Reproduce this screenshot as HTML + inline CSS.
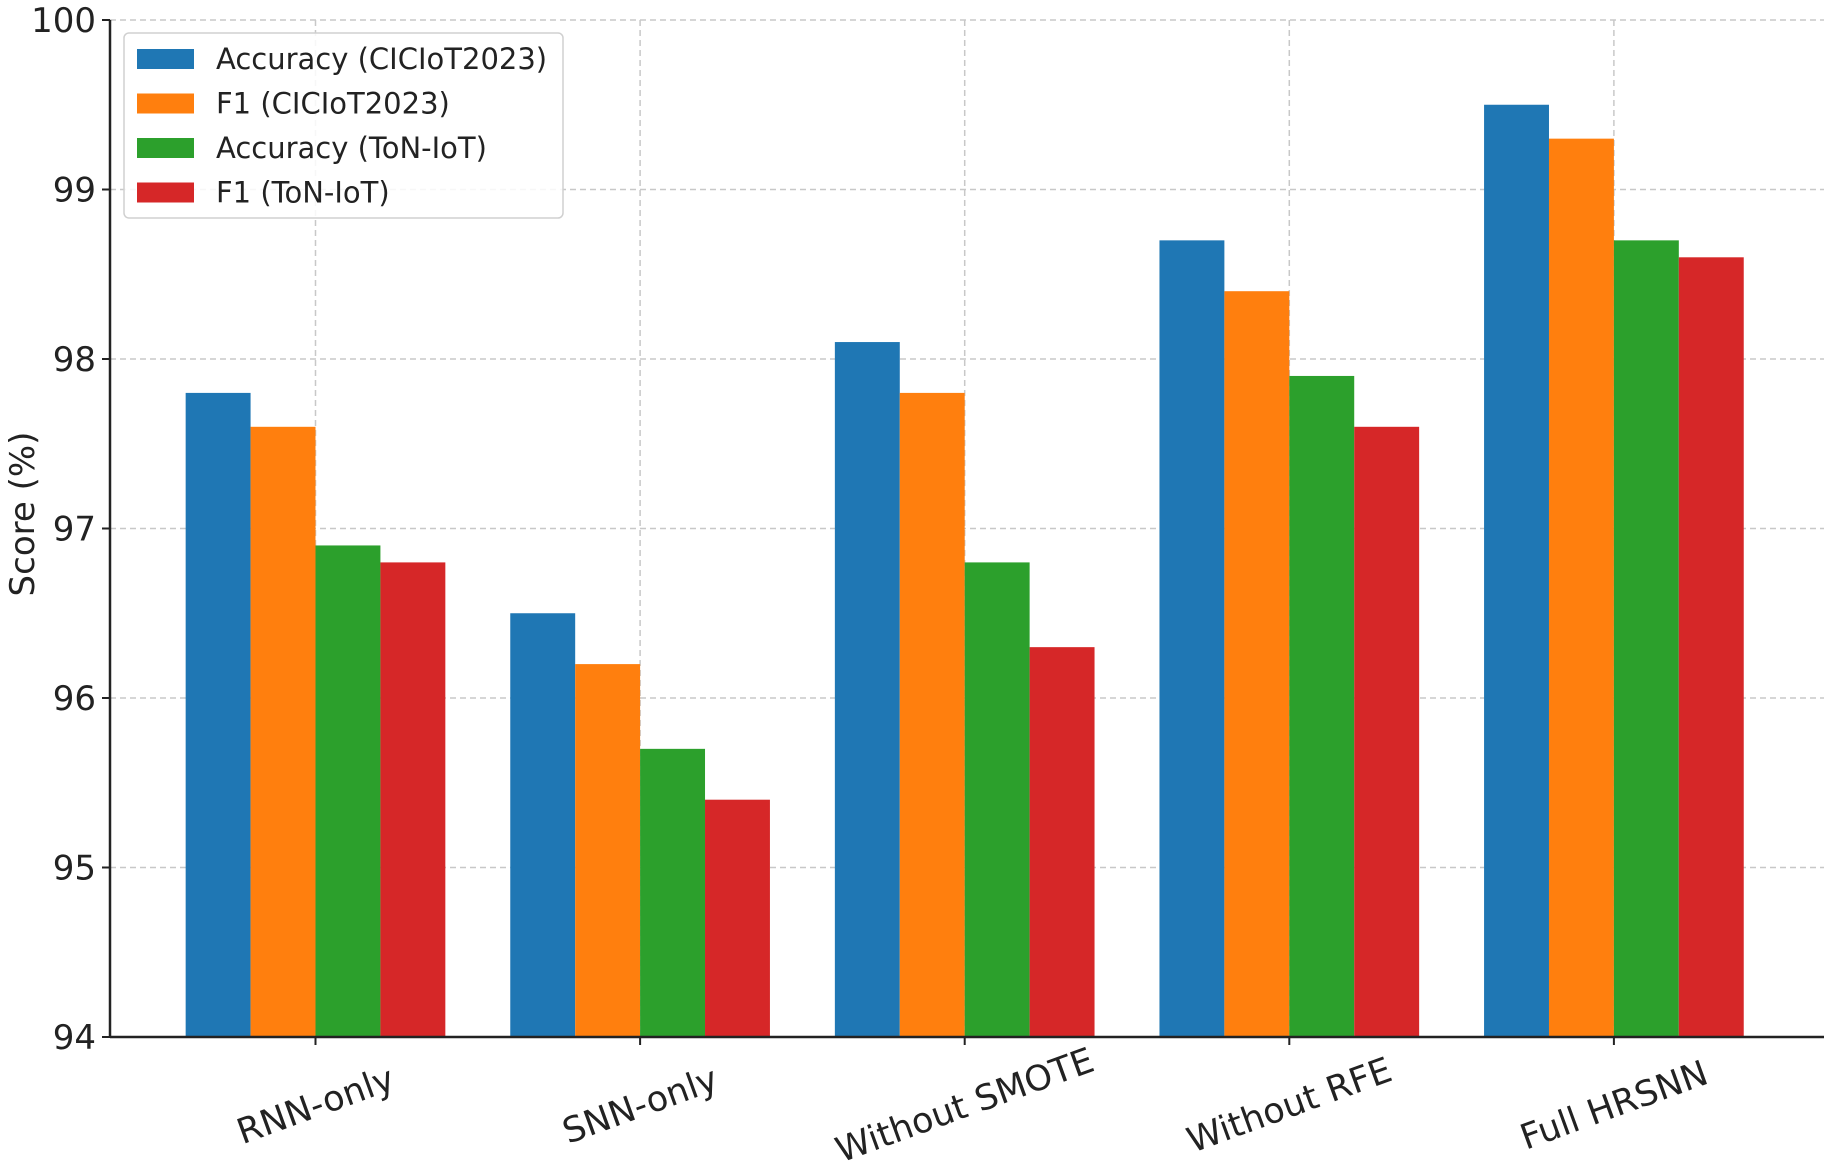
<!DOCTYPE html>
<html><head><meta charset="utf-8"><style>
body{margin:0;background:#fff;}
svg{display:block;font-family:"DejaVu Sans","Liberation Sans",sans-serif;}
</style></head><body>
<svg id="chart" width="1831" height="1168" viewBox="0 0 1831 1168" xmlns="http://www.w3.org/2000/svg"></svg>
<script>
const categories = ["RNN-only","SNN-only","Without SMOTE","Without RFE","Full HRSNN"];
const accCic = [97.8, 96.5, 98.1, 98.7, 99.5];
const f1Cic = [97.6, 96.2, 97.8, 98.4, 99.3];
const accTon = [96.9, 95.7, 96.8, 97.9, 98.7];
const f1Ton = [96.8, 95.4, 96.3, 97.6, 98.6];
const seriesNames = ["Accuracy (CICIoT2023)","F1 (CICIoT2023)","Accuracy (ToN-IoT)","F1 (ToN-IoT)"];
const yTicks = [94,95,96,97,98,99,100];

const NS="http://www.w3.org/2000/svg";
const svg=document.getElementById('chart');
const L=110,R=1824,T=20,B=1037,ymin=94,ymax=100;
const colors=["#1f77b4","#ff7f0e","#2ca02c","#d62728"];
const step=324.6, x0=315.5;
function xs(i){return x0+i*step;}
function ys(v){return B-(v-ymin)/(ymax-ymin)*(B-T);}
function el(tag,attrs,parent){const e=document.createElementNS(NS,tag);for(const k in attrs)e.setAttribute(k,attrs[k]);(parent||svg).appendChild(e);return e;}
const grid=el('g',{});


yTicks.forEach(t=>{el('line',{x1:L,x2:R,y1:ys(t),y2:ys(t),stroke:"#c8c8c8","stroke-width":1.5,"stroke-dasharray":"6,4"},grid);});
categories.forEach((c,i)=>{el('line',{x1:xs(i),x2:xs(i),y1:T,y2:B,stroke:"#c8c8c8","stroke-width":1.5,"stroke-dasharray":"6,4"},grid);});
const series=[accCic,f1Cic,accTon,f1Ton];
const bw=step*0.8/4;
series.forEach((s,si)=>{
  s.forEach((v,i)=>{
    const x=xs(i)-2*bw+si*bw;
    const r=el('rect',{x:x,y:ys(v),width:bw,height:B-ys(v),fill:colors[si]});
    
    
  });
});
el('line',{x1:L,x2:L,y1:T,y2:B,stroke:"#222","stroke-width":2.5});
el('line',{x1:L,x2:R,y1:B,y2:B,stroke:"#222","stroke-width":2.5});
yTicks.forEach(t=>{
  el('line',{x1:L-8,x2:L,y1:ys(t),y2:ys(t),stroke:"#222","stroke-width":2});
  const tx=el('text',{x:L-14,y:ys(t)+12,"text-anchor":"end","font-size":34,fill:"#222"});
  tx.textContent=t;
  
  
});
categories.forEach((c,i)=>{
  el('line',{x1:xs(i),x2:xs(i),y1:B,y2:B+8,stroke:"#222","stroke-width":2});
  const tx=el('text',{x:xs(i),y:B+80,"text-anchor":"middle","font-size":35,fill:"#222",transform:`rotate(-20 ${xs(i)} ${B+68})`});
  tx.textContent=c;
  
  
});
const yt=el('text',{x:34,y:514,"text-anchor":"middle","font-size":34,fill:"#222",transform:"rotate(-90 34 514)"});
yt.textContent="Score (%)";


const lg=el('g',{});


el('rect',{x:124,y:33,width:439,height:185,rx:5,fill:"#fff","fill-opacity":0.85,stroke:"#d0d0d0","stroke-width":1.5},lg);
seriesNames.forEach((n,i)=>{
  const y=59+i*44.5;
  el('rect',{x:137,y:y-10,width:57,height:20,fill:colors[i]},lg);
  const tx=el('text',{x:216,y:y+10,"font-size":29,fill:"#222"},lg);
  tx.textContent=n;
  
  
});
</script>
</body></html>
